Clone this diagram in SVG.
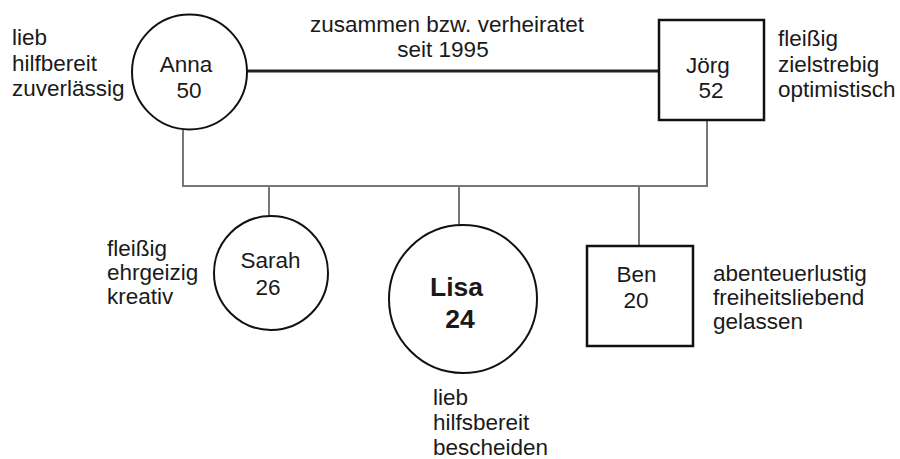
<svg xmlns="http://www.w3.org/2000/svg" width="900" height="459" viewBox="0 0 900 459">
<style>
text { font-family: "Liberation Sans", Arial, sans-serif; font-size: 22.5px; fill: #1a1a1a; }
.c { text-anchor: middle; }
.b { font-weight: bold; font-size: 26.5px; }
.shape { fill: #fff; stroke: #111; stroke-width: 2; }
.box { fill: #fff; stroke: #111; stroke-width: 2.5; }
.link { fill: none; stroke: #777; stroke-width: 2; }
.marriage { fill: none; stroke: #222; stroke-width: 3; }
</style>
<rect width="900" height="459" fill="#fff"/>
<g id="connectors">
  <line class="marriage" x1="247" y1="71" x2="659" y2="71"/>
  <polyline class="link" points="183,130 183,186 707,186 707,121"/>
  <line class="link" x1="269" y1="186" x2="269" y2="216"/>
  <line class="link" x1="459" y1="186" x2="459" y2="225"/>
  <line class="link" x1="639" y1="186" x2="639" y2="246"/>
  <text class="c" x="447" y="32">zusammen bzw. verheiratet</text>
  <text class="c" x="443" y="57">seit 1995</text>
</g>
<g id="anna">
  <circle class="shape" cx="189.5" cy="72" r="57.5"/>
  <text class="c" x="186" y="72">Anna</text>
  <text class="c" x="189" y="98">50</text>
  <text x="12" y="45">lieb</text>
  <text x="12" y="71">hilfbereit</text>
  <text x="12" y="96">zuverlässig</text>
</g>
<g id="joerg">
  <rect class="box" x="659" y="20" width="105" height="100"/>
  <text class="c" x="708" y="73">Jörg</text>
  <text class="c" x="711" y="98">52</text>
  <text x="778" y="46">fleißig</text>
  <text x="778" y="72">zielstrebig</text>
  <text x="778" y="97">optimistisch</text>
</g>
<g id="sarah">
  <circle class="shape" cx="271" cy="273" r="57"/>
  <text class="c" x="270.5" y="268">Sarah</text>
  <text class="c" x="268" y="295">26</text>
  <text x="107" y="256">fleißig</text>
  <text x="107" y="280">ehrgeizig</text>
  <text x="107" y="304">kreativ</text>
</g>
<g id="lisa">
  <circle class="shape" cx="463" cy="299" r="74"/>
  <text class="c b" x="456.5" y="296">Lisa</text>
  <text class="c b" x="460" y="328">24</text>
  <text x="433" y="405">lieb</text>
  <text x="433" y="430">hilfsbereit</text>
  <text x="433" y="455">bescheiden</text>
</g>
<g id="ben">
  <rect class="box" x="587" y="246" width="106" height="100"/>
  <text class="c" x="636.5" y="282">Ben</text>
  <text class="c" x="636" y="308">20</text>
  <text x="713" y="281">abenteuerlustig</text>
  <text x="713" y="305">freiheitsliebend</text>
  <text x="713" y="329">gelassen</text>
</g>
</svg>
